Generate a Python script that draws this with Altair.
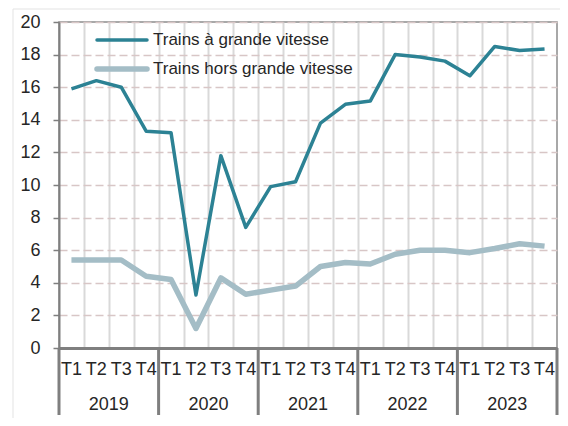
import altair as alt
import pandas as pd

quarters = ["T1", "T2", "T3", "T4"]
years = ["2019", "2020", "2021", "2022", "2023"]
series_names = ["Trains à grande vitesse", "Trains hors grande vitesse"]
hsr = [15.9, 16.4, 16.0, 13.3, 13.2, 3.25, 11.8, 7.4, 9.9, 10.2,
       13.8, 14.95, 15.15, 18.0, 17.85, 17.6, 16.7, 18.5, 18.25, 18.35]
non_hsr = [5.4, 5.4, 5.4, 4.4, 4.2, 1.2, 4.3, 3.3, 3.55, 3.8,
           5.0, 5.25, 5.15, 5.75, 6.0, 6.0, 5.85, 6.1, 6.4, 6.25]
colors = ["#2C8294", "#A4BDC6"]
widths = [3.5, 5.5]

FONT = "Liberation Sans"
TXT = "#262626"

rows = []
for i in range(20):
    rows.append({"pos": i + 0.5, "serie": series_names[1], "v": non_hsr[i], "order": i})
    rows.append({"pos": i + 0.5, "serie": series_names[0], "v": hsr[i], "order": i})
df = pd.DataFrame(rows)

xs = alt.Scale(domain=[0, 20], nice=False, zero=False)
ys = alt.Scale(domain=[0, 20], nice=False)

xaxis = alt.Axis(values=list(range(1, 20)), grid=True, gridColor="#D9D9D9", gridWidth=2,
                 labels=False, ticks=False, domainColor="#7F7F7F", domainWidth=3, title=None)
yaxis = alt.Axis(values=list(range(0, 21, 2)), grid=True, gridColor="#D8C6C6", gridDash=[8, 4],
                 gridWidth=1.5, domainColor="#7F7F7F", domainWidth=2, tickColor="#7F7F7F",
                 tickSize=6, tickWidth=1.5, labelFont=FONT, labelFontSize=18, labelColor=TXT,
                 labelPadding=13, title=None)

lines = []
for name, c, w in zip(series_names[::-1], colors[::-1], widths[::-1]):
    lines.append(
        alt.Chart(df[df.serie == name]).mark_line(color=c, strokeWidth=w, strokeJoin="round")
        .encode(x=alt.X("pos:Q", scale=xs, axis=xaxis),
                y=alt.Y("v:Q", scale=ys, axis=yaxis),
                order="order:Q")
    )

qdf = pd.DataFrame({"pos": [i + 0.5 for i in range(20)], "lab": [quarters[i % 4] for i in range(20)]})
qlabels = alt.Chart(qdf).mark_text(font=FONT, fontSize=18, color=TXT, baseline="middle").encode(
    x=alt.X("pos:Q", scale=xs, axis=xaxis), y=alt.value(348), text="lab:N")

ydf = pd.DataFrame({"pos": [4 * k + 2 for k in range(5)], "lab": years})
ylabels = alt.Chart(ydf).mark_text(font=FONT, fontSize=18, color=TXT, baseline="middle").encode(
    x=alt.X("pos:Q", scale=xs, axis=xaxis), y=alt.value(383), text="lab:N")

sdf = pd.DataFrame({"b": [0, 4, 8, 12, 16, 20]})
seps = alt.Chart(sdf).mark_rule(color="#7F7F7F", strokeWidth=3).encode(
    x=alt.X("b:Q", scale=xs, axis=xaxis), y=alt.value(326), y2=alt.value(393))

legend_layers = []
for k, (name, c, w) in enumerate(zip(series_names, colors, widths)):
    ly = 18 + 29 * k
    ldf = pd.DataFrame({"name": [name]})
    legend_layers.append(alt.Chart(ldf).mark_rule(color=c, strokeWidth=w, strokeCap="round").encode(
        x=alt.value(38), x2=alt.value(88), y=alt.value(ly)))
    legend_layers.append(alt.Chart(ldf).mark_text(font=FONT, fontSize=17, color=TXT, align="left",
                                                  baseline="middle").encode(
        x=alt.value(94), y=alt.value(ly), text="name:N"))

frame = alt.Chart(pd.DataFrame({"a": [0]})).mark_rect(fill=None, stroke="#E3E3E3", strokeWidth=1).encode(
    x=alt.value(-46), x2=alt.value(508), y=alt.value(-13), y2=alt.value(398))

chart = alt.layer(frame, *lines, qlabels, ylabels, seps, *legend_layers).properties(
    width=498, height=326, autosize="none",
    padding={"left": 51, "top": 14, "right": 3, "bottom": 70},
    background="white",
).configure_view(stroke="#8C8C8C", strokeWidth=1.5)

chart.save("out.html", embed_options={"renderer": "svg", "actions": False})
